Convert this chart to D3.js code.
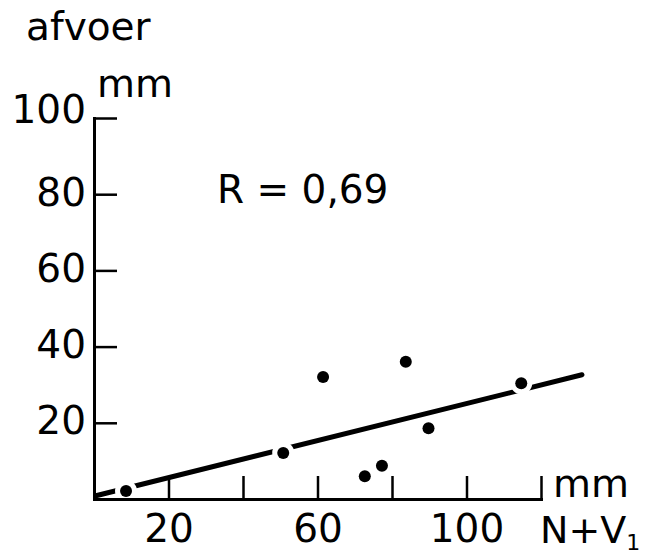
<!DOCTYPE html>
<html>
<head>
<meta charset="utf-8">
<script src="https://cdn.jsdelivr.net/npm/d3@7"></script>
<style>
  body { margin: 0; background: #fff; }
  svg text { font-family: 'DejaVu Sans', sans-serif; fill: #000; }
</style>
</head>
<body>
<div id="chart"></div>
<script>
const WIDTH  = 649;
const HEIGHT = 557;
const FONT   = 39;

// N+V1 (mm) against afvoer (mm)
const rainfall  = [8.6, 50.8, 61.5, 72.7, 77.3, 83.7, 89.8, 114.7];
const discharge = [2.1, 12.1, 32.0, 6.0, 8.7, 36.0, 18.6, 30.4];

// regression line
const fitX = [0.5, 131];
const fitY = [0.84, 32.6];

const xTicks  = [20, 40, 60, 80, 100, 120];
const xLabels = [20, 60, 100];
const yTicks  = [20, 40, 60, 80, 100];

var x = d3.scaleLinear()
  .domain([0, 120])
  .range([94, 541]);
var y = d3.scaleLinear()
  .domain([0, 100])
  .range([499, 118]);

var svg = d3.select('#chart').append('svg')
  .attr('width', WIDTH)
  .attr('height', HEIGHT)
  .style('background-color', '#fff');

// Regression line
var line = d3.line()
  .x(d => x(d[0]))
  .y(d => y(d[1]));

svg.append('path')
  .datum(d3.zip(fitX, fitY))
  .attr('d', line)
  .style('fill', 'none')
  .style('stroke', '#000')
  .style('stroke-width', 5)
  .style('stroke-linecap', 'round');

// Points, white halo breaks the line around them
svg.selectAll('.point')
    .data(d3.zip(rainfall, discharge))
  .enter().append('circle')
    .attr('class', 'point')
    .attr('cx', d => x(d[0]))
    .attr('cy', d => y(d[1]))
    .attr('r', 6)
    .style('fill', '#000')
    .style('stroke', '#fff')
    .style('stroke-width', 10)
    .style('paint-order', 'stroke');

// Axes
var xAxis = svg.append('g')
  .attr('transform', `translate(0,${y(0)})`)
  .call(d3.axisBottom(x)
    .tickValues(xTicks)
    .tickSizeInner(-23)
    .tickSizeOuter(0)
    .tickPadding(15)
    .tickFormat(d => xLabels.includes(d) ? d : ''));

var yAxis = svg.append('g')
  .attr('transform', `translate(${x(0)},0)`)
  .call(d3.axisLeft(y)
    .tickValues(yTicks)
    .tickSizeInner(-23)
    .tickSizeOuter(0)
    .tickPadding(8));

for (let a of [xAxis, yAxis]) {
  a.select('.domain')
    .style('stroke', '#000')
    .style('stroke-width', 3)
    .style('stroke-linecap', 'square');
  a.selectAll('.tick line')
    .style('stroke', '#000')
    .style('stroke-width', 2.5);
  a.selectAll('.tick text')
    .attr('font-family', 'DejaVu Sans')
    .attr('font-size', FONT)
    .style('fill', '#000');
}
yAxis.selectAll('.tick text')
  .attr('dy', d => d === 100 ? '0.12em' : '0.28em');

// Labels
function label(txt, px, py, size) {
  return svg.append('text')
    .attr('x', px)
    .attr('y', py)
    .attr('font-size', size || FONT)
    .text(txt);
}

label('afvoer', 26, 40);
label('mm', 97, 97);
label('mm', 553, 497);
label('R = 0,69', 217, 203);

var nv = label('N+V', 540, 543, 38);
nv.append('tspan')
  .attr('font-size', 22)
  .attr('dy', 7)
  .text('1');
</script>
</body>
</html>
